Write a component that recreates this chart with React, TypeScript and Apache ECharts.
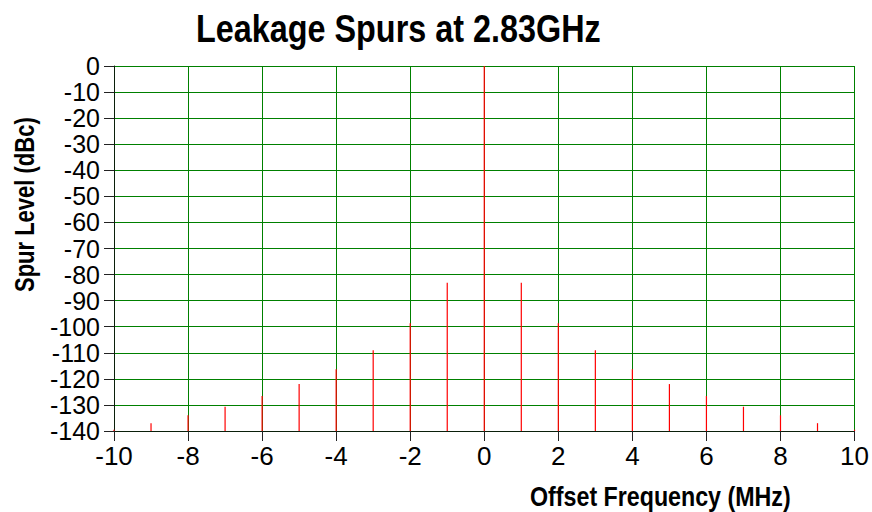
import React, { useEffect, useRef } from "react";
import * as echarts from "echarts";

const offsets = [-10, -9, -8, -7, -6, -5, -4, -3, -2, -1, 0, 1, 2, 3, 4, 5, 6, 7, 8, 9, 10];
const spurLevels = [
  -139.5, -137, -134, -130.7, -126.6, -122, -116.3, -109, -98.7, -83.1, 0,
  -83.1, -98.7, -109, -116.3, -122, -126.6, -130.7, -134, -137, -139.5,
];
const titleText = "Leakage Spurs at 2.83GHz";
const xName = "Offset Frequency (MHz)";
const yName = "Spur Level (dBc)";

const FONT = "'Liberation Sans', Arial, sans-serif";

export default function App() {
  const ref = useRef<HTMLDivElement>(null);
  useEffect(() => {
    if (!ref.current) return;
    const chart = echarts.init(ref.current, undefined, { renderer: "svg" });
    const data = offsets.map((x, i) => [x, spurLevels[i]]);
    chart.setOption({
      animation: false,
      backgroundColor: "#ffffff",
      grid: { left: 114, right: 14, top: 66, bottom: 81, containLabel: false },
      xAxis: {
        type: "value",
        min: -10,
        max: 10,
        interval: 2,
        axisLine: { show: true, onZero: false, lineStyle: { color: "#0a1f0a", width: 1 } },
        axisTick: { show: true, length: 10, lineStyle: { color: "#222" } },
        axisLabel: {
          margin: 12,
          fontFamily: FONT,
          fontSize: 26,
          color: "#000",
          showMinLabel: true,
          showMaxLabel: true,
        },
        splitLine: { show: true, lineStyle: { color: "#008000", width: 1 } },
      },
      yAxis: {
        type: "value",
        min: -140,
        max: 0,
        interval: 10,
        axisLine: { show: true, onZero: false, lineStyle: { color: "#0a1f0a", width: 1 } },
        axisTick: { show: true, length: 10, lineStyle: { color: "#222" } },
        axisLabel: {
          margin: 14,
          fontFamily: FONT,
          fontSize: 25,
          lineHeight: 24,
          color: "#000",
          showMinLabel: true,
          showMaxLabel: true,
        },
        splitLine: { show: true, lineStyle: { color: "#008000", width: 1 } },
      },
      graphic: [
        {
          type: "text",
          x: 196,
          y: 29,
          scaleX: 0.83,
          style: {
            text: titleText,
            align: "left",
            verticalAlign: "middle",
            font: "bold 39px " + FONT,
            fill: "#000",
          },
        },
        {
          type: "text",
          x: 530,
          y: 496,
          scaleX: 0.83,
          style: {
            text: xName,
            align: "left",
            verticalAlign: "middle",
            font: "bold 28px " + FONT,
            fill: "#000",
          },
        },
        {
          type: "text",
          x: 25,
          y: 292,
          rotation: Math.PI / 2,
          scaleX: 0.815,
          style: {
            text: yName,
            align: "left",
            verticalAlign: "middle",
            font: "bold 27px " + FONT,
            fill: "#000",
          },
        },
      ],
      series: [
        {
          type: "custom",
          data,
          z: 5,
          renderItem: (params: any, api: any) => {
            const x = api.value(0);
            const y = api.value(1);
            const top = api.coord([x, y]);
            const base = api.coord([x, -140]);
            return {
              type: "line",
              shape: { x1: top[0], y1: top[1], x2: base[0], y2: base[1] },
              style: { stroke: "#ff0000", lineWidth: 1.2 },
            };
          },
        },
      ],
    });
    return () => chart.dispose();
  }, []);
  return <div ref={ref} style={{ width: 872, height: 512, position: "absolute", left: 0, top: 0 }} />;
}
